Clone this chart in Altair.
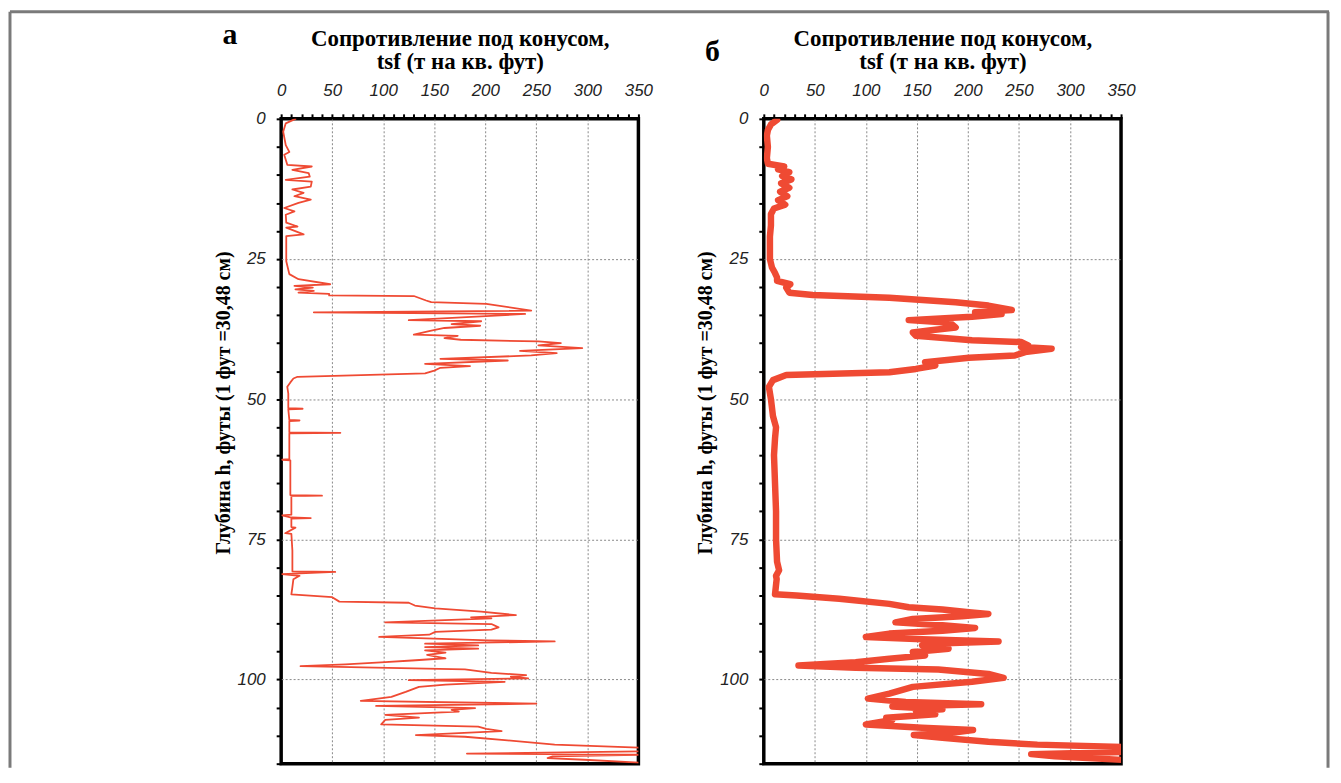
import altair as alt
import pandas as pd

# ---- panel а (raw cone resistance profile) ----
depth_a = [0.0, 0.8, 2.3, 4.7, 5.9, 6.4, 8.2, 8.5, 9.1, 9.7, 10.3, 10.9, 11.2, 12.1, 12.6, 13.2, 13.8,
           14.4, 15.0, 15.9, 16.5, 17.1, 18.5, 19.2, 19.4, 20.6, 20.9, 23.0, 25.4, 27.7, 28.6, 29.5,
           29.8, 30.1, 30.4, 30.7, 31.0, 31.2, 31.5, 31.6, 32.4, 32.7, 33.0, 34.2, 34.5, 34.8, 35.9,
           36.1, 36.6, 36.9, 37.3, 37.8, 38.5, 38.7, 39.1, 39.4, 39.7, 40.0, 40.4, 40.9, 41.4, 41.8,
           42.2, 42.8, 43.1, 43.7, 44.1, 44.4, 44.9, 45.4, 46.0, 46.3, 47.0, 47.8, 49.0, 51.6, 51.7,
           51.8, 53.7, 53.8, 53.9, 55.9, 56.0, 56.1, 58.0, 60.7, 60.8, 60.9, 64.0, 67.1, 67.2, 67.3,
           70.6, 70.7, 71.1, 71.2, 71.3, 72.8, 72.9, 73.9, 74.0, 77.0, 80.7, 80.8, 81.2, 81.5, 82.1,
           83.5, 84.8, 85.3, 86.1, 86.3, 86.8, 87.3, 87.9, 88.5, 88.9, 89.1, 89.8, 90.1, 90.7, 91.1,
           91.5, 92.0, 92.4, 93.0, 93.2, 93.6, 93.9, 94.2, 94.5, 94.8, 95.2, 95.6, 96.2, 96.6, 96.9,
           97.3, 97.6, 97.9, 98.2, 98.8, 99.2, 99.5, 99.8, 100.1, 100.4, 100.9, 101.3, 102.2, 103.1,
           103.8, 104.3, 104.7, 105.1, 105.4, 105.7, 106.3, 106.8, 107.2, 108.0, 108.4, 108.8, 109.2,
           109.9, 110.2, 110.8, 111.6, 112.2, 112.8, 113.2, 113.4, 113.7, 114.0, 114.3, 114.9]
cone_a = [14, 4.5, 2, 4.5, 8, 3, 6, 30, 11, 27, 28, 4.5, 30, 29, 11, 22, 13,
          29, 17, 3, 13, 4.5, 5, 16, 5, 22, 5, 5, 5, 8, 17, 48,
          13, 31, 14, 32, 17, 47, 47, 130, 142, 147, 201, 245, 32, 239, 125,
          196, 167, 195, 160, 146, 130, 173, 160, 176, 252, 274, 252, 295, 234, 270,
          245, 156, 222, 141, 185, 156, 150, 141, 16, 12, 9, 6, 7, 7, 21,
          7, 8, 18, 8, 8, 58, 8, 8, 8, 1, 9, 9, 9, 40, 10,
          10, 1, 10, 29, 10, 10, 14, 4, 10, 11, 11, 53, 1, 18, 12,
          11, 10, 50, 57, 125, 131, 151, 196, 230, 186, 206, 102, 206, 213, 206,
          151, 145, 96, 203, 268, 141, 193, 141, 193, 141, 161, 143, 161, 128, 102,
          63, 19, 105, 180, 206, 240, 225, 242, 125, 219, 161, 135, 122, 108,
          78, 250, 93, 190, 167, 174, 102, 135, 102, 98, 193, 201, 216,
          132, 180, 219, 268, 360, 360, 182, 360, 266, 261, 297, 360]

# ---- panel б (smoothed profile) ----
depth_b = [0.2, 1.0, 2.0, 3.0, 5.0, 7.0, 8.0, 8.5, 9.0, 9.5, 10.2, 10.8, 11.5, 12.3, 13.0, 13.8,
           14.5, 15.3, 16.0, 17.0, 19.0, 21.0, 23.0, 25.0, 26.5, 27.5, 28.3, 28.9, 29.5, 30.1,
           31.0, 31.4, 31.9, 32.7, 33.3, 34.1, 34.5, 34.8, 35.3, 35.9, 36.3, 36.6, 37.2, 37.6,
           38.1, 38.7, 39.5, 39.8, 40.4, 40.7, 41.0, 41.6, 42.2, 42.6, 43.4, 44.0, 44.6, 45.2,
           45.7, 46.6, 47.8, 50.0, 53.0, 55.0, 57.0, 60.0, 65.0, 70.0, 75.0, 79.0, 80.5, 81.5,
           82.1, 84.8, 85.0, 85.6, 86.5, 87.1, 87.5, 88.0, 88.3, 88.7, 89.2, 89.8, 90.3, 90.8,
           91.3, 91.8, 92.4, 92.8, 93.2, 93.6, 93.9, 94.5, 95.1, 95.7, 96.3, 96.9, 97.5, 97.9,
           98.2, 99.0, 99.7, 100.4, 101.3, 102.5, 103.4, 104.0, 104.4, 104.8, 105.3, 105.6,
           106.2, 106.8, 107.2, 108.0, 108.6, 109.0, 109.4, 109.9, 110.4, 111.1, 111.6, 112.2,
           112.8, 113.3, 113.7, 114.0, 114.6]
cone_b = [13, 7, 4, 3, 4, 3, 4, 20, 14, 25, 18, 27, 17, 25, 16, 23,
          14, 21, 10, 7, 7, 6, 6, 6, 8, 11, 13, 13, 26, 22,
          25, 48, 123, 188, 220, 243, 207, 233, 204, 142, 175, 184, 188, 168,
          146, 149, 204, 252, 259, 252, 282, 256, 246, 201, 158, 168, 149, 123,
          22, 9, 5, 7, 9, 12, 11, 10, 11, 12, 12, 13, 15, 12,
          12.6, 11, 32, 74, 123, 142, 175, 201, 220, 194, 146, 129, 175, 207,
          175, 123, 100, 155, 230, 162, 155, 181, 146, 158, 123, 90, 34, 90,
          171, 220, 235, 204, 146, 123, 102, 139, 213, 126, 175, 149,
          168, 120, 126, 100, 155, 205, 188, 147, 175, 220, 268, 380,
          380, 262, 285, 317, 380]

x_ticks = list(range(0, 351, 10))
y_ticks = list(range(0, 116, 5))
x_title = ["Сопротивление под конусом,", "tsf (т на кв. фут)"]
y_title = "Глубина h, футы (1 фут =30,48 см)"
letters = ["а", "б"]

RED = "#EF4A33"
W, H = 359, 648


def panel(depth, cone, stroke_w, letter, frame=False):
    df = pd.DataFrame({"depth": depth, "qc": cone, "i": list(range(len(depth)))})
    x = alt.X("qc:Q",
              scale=alt.Scale(domain=[0, 350], nice=False, zero=False),
              axis=alt.Axis(orient="top", values=x_ticks, title=x_title,
                            labelExpr="datum.value % 50 === 0 ? datum.label : ''",
                            labelOverlap=False, labelFlush=False,
                            labelPadding=14, titlePadding=9,
                            titleFontSize=23, titleLineHeight=23,
                            gridOpacity={"condition": {"test": "datum.value % 50 === 0 && datum.value > 0 && datum.value < 350", "value": 1}, "value": 0}))
    y = alt.Y("depth:Q",
              scale=alt.Scale(domain=[0, 115], reverse=True, nice=False, zero=False),
              axis=alt.Axis(values=y_ticks, title=y_title,
                            labelExpr="datum.value % 25 === 0 ? datum.label : ''",
                            labelOverlap=False, labelFlush=False,
                            labelPadding=11, titlePadding=4,
                            titleFontSize=20, titleY=285,
                            gridOpacity={"condition": {"test": "datum.value % 25 === 0 && datum.value > 0", "value": 1}, "value": 0}))
    line = alt.Chart(df).mark_line(color=RED, strokeWidth=stroke_w, clip=True,
                                   strokeJoin="round", strokeCap="round").encode(
        x=x, y=y, order="i:Q")
    layers = [line]
    if frame:
        one = pd.DataFrame({"k": [0]})
        fcol = "#7a7a7a"
        left = alt.Chart(one).mark_rule(color=fcol, strokeWidth=3).encode(
            x=alt.value(-272.5), y=alt.value(-107.5), y2=alt.value(652))
        top = alt.Chart(one).mark_rule(color=fcol, strokeWidth=3).encode(
            x=alt.value(-272.5), x2=alt.value(1053), y=alt.value(-107.5))
        right = alt.Chart(one).mark_rule(color=fcol, strokeWidth=3).encode(
            x=alt.value(1052), y=alt.value(-107.5), y2=alt.value(652))
        layers = [left, top, right, line]
    return alt.layer(*layers).properties(
        width=W, height=H,
        title=alt.TitleParams(letter, anchor="start", frame="group", dx=-59, dy=44))


a = panel(depth_a, cone_a, 1.8, letters[0], frame=True)
b = panel(depth_b, cone_b, 6.5, letters[1])

chart = alt.hconcat(a, b, spacing=126, bounds="flush").properties(
    padding={"left": -1.5, "top": -1.5, "right": 0, "bottom": 0}
).configure_view(
    stroke="black", strokeWidth=3.5
).configure_axis(
    domain=False, tickColor="black", tickWidth=2, tickSize=5,
    labelFont="Liberation Sans", labelFontStyle="italic", labelFontSize=17, labelColor="#222",
    titleFont="Liberation Serif", titleFontWeight="bold", titleColor="black",
    gridColor="#888", gridDash=[2, 2], gridWidth=1
).configure_title(
    font="Liberation Serif", fontWeight="bold", fontSize=30, color="black"
)

chart.save("out.html", embed_options={"renderer": "svg", "actions": False})
